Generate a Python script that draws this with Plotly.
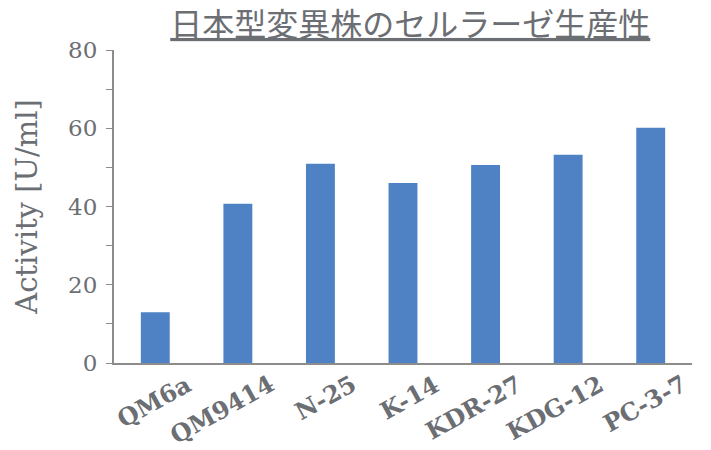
import plotly.graph_objects as go

strains = ["QM6a", "QM9414", "N-25", "K-14", "KDR-27", "KDG-12", "PC-3-7"]
activity = [13.0, 40.7, 50.9, 46.0, 50.6, 53.2, 60.1]
y_ticks = [0, 20, 40, 60, 80]

gray = "#6b6e73"
serif = "DejaVu Serif"

fig = go.Figure(go.Bar(
    x=strains, y=activity,
    marker=dict(color="#4f82c4", line=dict(width=0)),
))

# rotated category labels, anchored through the category axis
for s in strains:
    fig.add_annotation(
        x=s, y=0, xref="x", yref="y",
        text=s, showarrow=False, textangle=-29,
        xanchor="right", yanchor="top", xshift=42, yshift=-5,
        borderpad=0,
        font=dict(family=serif, size=24, color=gray, weight="bold"),
    )

fig.update_layout(
    width=711, height=450,
    margin=dict(l=114, r=19, t=50, b=87),
    paper_bgcolor="white", plot_bgcolor="white",
    bargap=0.65,
    showlegend=False,
    title=dict(
        text="日本型変異株のセルラーゼ生産性",
        x=0.577, xanchor="center", yref="container", y=0.945, yanchor="middle",
        font=dict(family="Noto Sans CJK JP", size=32, color=gray, lineposition="under"),
    ),
    xaxis=dict(
        range=[-0.5, len(strains) - 0.5],
        showline=True, linecolor="#8c8c8c", linewidth=2,
        ticks="", showticklabels=False, automargin=False,
    ),
    yaxis=dict(
        range=[0, 80], tickvals=y_ticks, automargin=False,
        showline=True, linecolor="#8c8c8c", linewidth=2,
        showgrid=False, zeroline=False,
        ticks="outside", ticklen=6, tickcolor="#8c8c8c",
        minor=dict(dtick=10, ticks="outside", ticklen=6, tickcolor="#8c8c8c", showgrid=False),
        ticklabelstandoff=4,
        tickfont=dict(family=serif, size=23, color=gray),
        title=dict(text="Activity [U/ml]", standoff=22,
                   font=dict(family=serif, size=29, color=gray)),
    ),
)

fig.write_html("out.html")
